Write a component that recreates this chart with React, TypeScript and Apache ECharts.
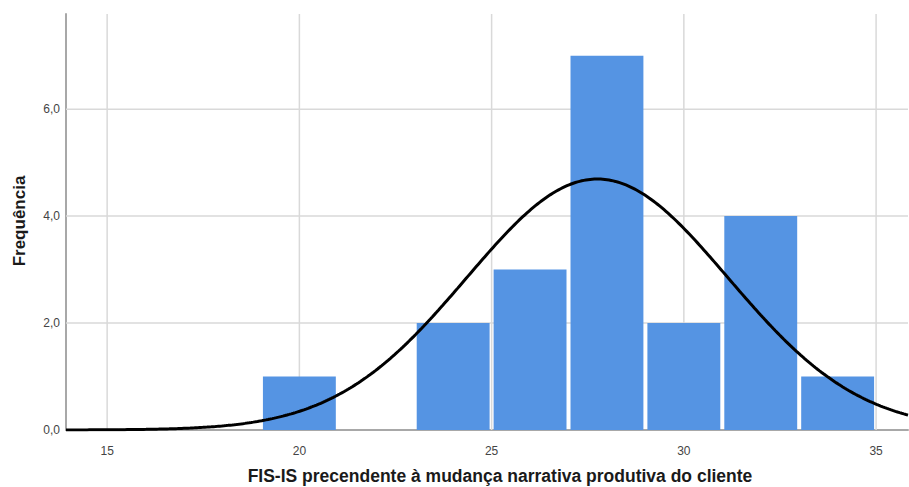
import React, { useEffect, useRef } from "react";
import * as echarts from "echarts";

// Histogram bins (lower / upper edge) and their frequencies
const binStarts = [19, 23, 25, 27, 29, 31, 33];
const binEnds = [21, 25, 27, 29, 31, 33, 35];
const frequencies = [1, 2, 3, 7, 2, 4, 1];

// Axis ticks
const xTicks = [15, 20, 25, 30, 35];
const yTicks = [0, 2, 4, 6];
const X_MIN = 13.93;
const X_MAX = 35.83;
const Y_MAX = 7.78;

// Fitted normal curve parameters
const FIT_MEAN = 27.75;
const FIT_SD = 3.4;
const BIN_WIDTH = 2;

const X_TITLE = "FIS-IS precendente à mudança narrativa produtiva do cliente";
const Y_TITLE = "Frequência";

const BAR_COLOR = "#5594E3";
const GRID_COLOR = "#d9d9d9";
const AXIS_COLOR = "#a8a8a8";
const FONT = "Arial, 'Liberation Sans', sans-serif";

function normalCurve(): number[][] {
  const n = frequencies.reduce((a, b) => a + b, 0);
  const pts: number[][] = [];
  const steps = 400;
  for (let i = 0; i <= steps; i++) {
    const x = X_MIN + ((X_MAX - X_MIN) * i) / steps;
    const z = (x - FIT_MEAN) / FIT_SD;
    const y = (n * BIN_WIDTH * Math.exp(-0.5 * z * z)) / (FIT_SD * Math.sqrt(2 * Math.PI));
    pts.push([x, y]);
  }
  return pts;
}

export default function App() {
  const ref = useRef<HTMLDivElement>(null);

  useEffect(() => {
    document.body.style.margin = "0";
    if (!ref.current) return;
    const chart = echarts.init(ref.current, null, { renderer: "svg" });

    const barData = binStarts.map((s, i) => [s, binEnds[i], frequencies[i]]);
    const gridData = [
      ...xTicks.map((v) => [0, v]),
      ...yTicks.filter((v) => v > 0).map((v) => [1, v]),
    ];

    chart.setOption({
      animation: false,
      backgroundColor: "#ffffff",
      grid: { left: 66, right: 1, top: 14, bottom: 57, containLabel: false },
      xAxis: {
        type: "value",
        min: X_MIN,
        max: X_MAX,
        axisLine: { show: true, onZero: false, lineStyle: { color: AXIS_COLOR, width: 2 } },
        axisTick: { show: false },
        splitLine: { show: false },
        axisLabel: {
          customValues: xTicks,
          color: "#444",
          fontSize: 12,
          fontFamily: FONT,
          margin: 15,
        },
      },
      yAxis: {
        type: "value",
        min: 0,
        max: Y_MAX,
        interval: 2,
        axisLine: { show: true, lineStyle: { color: AXIS_COLOR, width: 2 } },
        axisTick: { show: false },
        splitLine: { show: false },
        axisLabel: {
          customValues: yTicks,
          color: "#444",
          fontSize: 12,
          fontFamily: FONT,
          margin: 6,
          formatter: (v: number) => v.toFixed(1).replace(".", ","),
        },
      },
      graphic: [
        {
          type: "text",
          x: 500,
          y: 476,
          style: {
            text: X_TITLE,
            font: `bold 17.5px ${FONT}`,
            fill: "#1a1a1a",
            align: "center",
            verticalAlign: "middle",
          },
        },
        {
          type: "text",
          x: 19,
          y: 221,
          rotation: Math.PI / 2,
          style: {
            text: Y_TITLE,
            font: `bold 17px ${FONT}`,
            fill: "#1a1a1a",
            align: "center",
            verticalAlign: "middle",
          },
        },
      ],
      series: [
        {
          // vertical and horizontal grid lines
          type: "custom",
          z: 1,
          silent: true,
          data: gridData,
          renderItem: (params: any, api: any) => {
            const dir = api.value(0);
            const v = api.value(1);
            const a = dir === 0 ? api.coord([v, 0]) : api.coord([X_MIN, v]);
            const b = dir === 0 ? api.coord([v, Y_MAX]) : api.coord([X_MAX, v]);
            return {
              type: "line",
              shape: { x1: a[0], y1: a[1], x2: b[0], y2: b[1] },
              style: { stroke: GRID_COLOR, lineWidth: 1.5 },
            };
          },
        },
        {
          type: "custom",
          z: 2,
          data: barData,
          renderItem: (params: any, api: any) => {
            const x0 = api.value(0);
            const x1 = api.value(1);
            const h = api.value(2);
            const p0 = api.coord([x0, h]);
            const p1 = api.coord([x1, 0]);
            const inset = 2;
            return {
              type: "rect",
              shape: {
                x: p0[0] + inset,
                y: p0[1],
                width: p1[0] - p0[0] - inset * 2,
                height: p1[1] - p0[1],
              },
              style: { fill: BAR_COLOR },
            };
          },
        },
        {
          type: "line",
          z: 3,
          data: normalCurve(),
          showSymbol: false,
          smooth: false,
          lineStyle: { color: "#000", width: 3 },
        },
      ],
    });

    return () => chart.dispose();
  }, []);

  return <div ref={ref} style={{ width: 909, height: 487 }} />;
}
